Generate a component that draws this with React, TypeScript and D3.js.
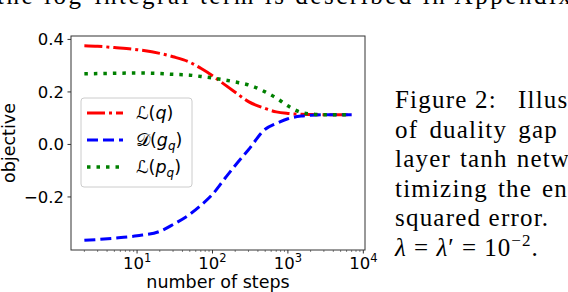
import * as d3 from "d3";

// steps on the x axis (log scale)
const steps = [2, 3, 5, 10, 20, 30, 50, 70, 100, 150, 200, 300, 500, 700, 1000, 1500, 2000, 3000, 5000, 7000];

const lq = [0.376, 0.374, 0.369, 0.361, 0.347, 0.334, 0.313, 0.29, 0.262, 0.225, 0.199, 0.163, 0.137, 0.124, 0.118, 0.115, 0.114, 0.113, 0.113, 0.113];
const dgq = [-0.365, -0.362, -0.357, -0.348, -0.331, -0.305, -0.266, -0.232, -0.19, -0.125, -0.08, -0.02, 0.058, 0.08, 0.098, 0.108, 0.111, 0.113, 0.113, 0.113];
const lpq = [0.269, 0.27, 0.271, 0.272, 0.27, 0.267, 0.264, 0.259, 0.253, 0.245, 0.238, 0.227, 0.2, 0.177, 0.147, 0.122, 0.116, 0.113, 0.113, 0.113];

const yTicks = [0.4, 0.2, 0.0, -0.2];
const xTicks = [10, 100, 1000, 10000];

// caption lines beside the chart, with the word spacing each justified line needs
const captionLines = [
  { text: "of duality gap for", ws: 3.7 },
  { text: "layer tanh network", ws: 1.5 },
  { text: "timizing the entropy", ws: 2.5 },
  { text: "squared error.", ws: 0 },
];

const W = 568;
const H = 292;
const m = { left: 71, right: 365, top: 36, bottom: 250 };

export default function App() {
  const lx0 = Math.log10(steps[0]);
  const lx1 = Math.log10(steps[steps.length - 1]);
  const padX = (lx1 - lx0) * 0.05;
  const x = d3.scaleLog().domain([10 ** (lx0 - padX), 10 ** (lx1 + padX)]).range([m.left, m.right]);

  const all = [...lq, ...dgq, ...lpq];
  const ymin = d3.min(all) as number;
  const ymax = d3.max(all) as number;
  const padY = (ymax - ymin) * 0.05;
  const y = d3.scaleLinear().domain([ymin - padY, ymax + padY]).range([m.bottom, m.top]);

  const line = d3
    .line<number>()
    .x((_, i) => x(steps[i]))
    .y((d) => y(d))
    .curve(d3.curveMonotoneX);

  const series = [
    { name: "q", vals: lq, color: "#ff0000", width: 3, dash: "18,4,3,4" },
    { name: "g", vals: dgq, color: "#0000ff", width: 3, dash: "11,5" },
    { name: "p", vals: lpq, color: "#008000", width: 3.5, dash: "3.5,6" },
  ];

  const minor: number[] = [];
  for (let e = 0; e < 4; e++) {
    for (let k = 2; k < 10; k++) {
      const v = k * 10 ** e;
      if (v >= x.domain()[0] && v <= x.domain()[1]) minor.push(v);
    }
  }

  const sans = "DejaVu Sans, sans-serif";
  const serif = "Liberation Serif, serif";
  const legendRows = [113, 140, 167];
  const capX = 395;
  const capY = 108;
  const capStep = 29.5;

  return (
    <svg width={W} height={H} style={{ position: "absolute", left: 0, top: 0, background: "#fff" }}>
      <rect width={W} height={H} fill="#fff" />
      {/* surrounding page text */}
      <text x={-3} y={4} fontFamily={serif} fontSize={25} textLength={574} lengthAdjust="spacing">
        the log-integral term is described in Appendix
      </text>
      <text y={capY} fontFamily={serif} fontSize={25} letterSpacing={1.2}>
        <tspan x={capX}>Figure</tspan>
        <tspan x={475}>2:</tspan>
        <tspan x={518}>Illustration</tspan>
      </text>
      {captionLines.map((l, i) => (
        <text key={i} x={capX} y={capY + (i + 1) * capStep} fontFamily={serif} fontSize={25} letterSpacing={1.2} wordSpacing={l.ws}>
          {l.text}
        </text>
      ))}
      <text x={capX} y={capY + 5 * capStep} fontFamily={serif} fontSize={25} letterSpacing={1}>
        <tspan fontStyle="italic">λ</tspan> = <tspan fontStyle="italic">λ</tspan>′ = 10
        <tspan fontSize={17} dy={-10}>−2</tspan>
        <tspan dy={10}>.</tspan>
      </text>

      {/* lines */}
      {series.map((s) => (
        <path key={s.name} d={line(s.vals) || ""} fill="none" stroke={s.color} strokeWidth={s.width} strokeDasharray={s.dash} />
      ))}

      {/* frame */}
      <rect x={m.left} y={m.top} width={m.right - m.left} height={m.bottom - m.top} fill="none" stroke="#333" strokeWidth={1} />

      {/* y axis */}
      {yTicks.map((t) => (
        <g key={t}>
          <line x1={m.left - 3.5} x2={m.left} y1={y(t)} y2={y(t)} stroke="#333" />
          <text x={m.left - 7} y={y(t)} dy="0.36em" textAnchor="end" fontFamily={sans} fontSize={16.5}>
            {t < 0 ? "−" + Math.abs(t).toFixed(1) : t.toFixed(1)}
          </text>
        </g>
      ))}
      <text transform={`translate(15,${(m.top + m.bottom) / 2}) rotate(-90)`} textAnchor="middle" fontFamily={sans} fontSize={17.5}>
        objective
      </text>

      {/* x axis */}
      {minor.map((v) => (
        <line key={v} x1={x(v)} x2={x(v)} y1={m.bottom} y2={m.bottom + 2} stroke="#333" strokeWidth={0.6} />
      ))}
      {xTicks.map((t) => (
        <g key={t}>
          <line x1={x(t)} x2={x(t)} y1={m.bottom} y2={m.bottom + 3.5} stroke="#333" />
          <text x={x(t)} y={269} textAnchor="middle" fontFamily={sans} fontSize={16.5}>
            10
            <tspan fontSize={11.5} dy={-7}>{Math.round(Math.log10(t))}</tspan>
          </text>
        </g>
      ))}
      <text x={(m.left + m.right) / 2} y={288} textAnchor="middle" fontFamily={sans} fontSize={17.5}>
        number of steps
      </text>

      {/* legend */}
      <rect x={81} y={98} width={111} height={89} rx={3} fill="#fff" fillOpacity={0.8} stroke="#ccc" />
      {series.map((s, i) => (
        <line key={s.name} x1={87} x2={123} y1={legendRows[i]} y2={legendRows[i]} stroke={s.color} strokeWidth={s.width} strokeDasharray={s.dash} />
      ))}
      <text x={136} y={legendRows[0]} dy="0.35em" fontFamily={sans} fontSize={17.5}>
        ℒ(<tspan fontStyle="italic">q</tspan>)
      </text>
      <text x={136} y={legendRows[1]} dy="0.35em" fontFamily={sans} fontSize={17.5}>
        𝒟(<tspan fontStyle="italic">g</tspan>
        <tspan fontStyle="italic" fontSize={12} dy={4}>q</tspan>
        <tspan dy={-4}>)</tspan>
      </text>
      <text x={136} y={legendRows[2]} dy="0.35em" fontFamily={sans} fontSize={17.5}>
        ℒ(<tspan fontStyle="italic">p</tspan>
        <tspan fontStyle="italic" fontSize={12} dy={4}>q</tspan>
        <tspan dy={-4}>)</tspan>
      </text>
    </svg>
  );
}
